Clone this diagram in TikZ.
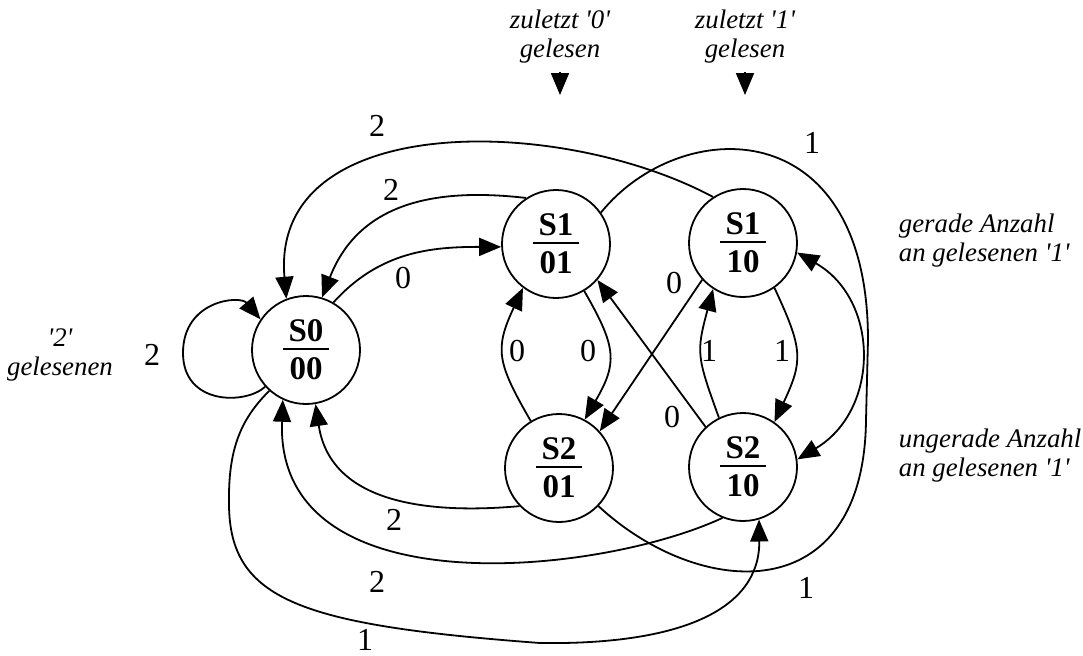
\documentclass[tikz,border=0pt]{standalone}
\usepackage{fontspec}
\setmainfont{Liberation Serif}
\usetikzlibrary{arrows.meta}
\tikzset{>={Triangle[length=11pt,width=9pt]}}
\newcommand{\zst}[2]{\vbox{\offinterlineskip\halign{\hfil##\hfil\cr\textbf{#1}\cr\noalign{\kern3pt}\rule{23pt}{0.7pt}\cr\noalign{\kern4pt}\textbf{#2}\cr}}}

\begin{document}
\begin{tikzpicture}[x=0.5pt,y=0.5pt,line width=0.9pt,
        state/.style={circle,draw,minimum size=54pt,inner sep=0pt,font=\fontsize{16.5}{18}\selectfont},
        lbl/.style={font=\fontsize{16}{18}\selectfont,inner sep=0pt},
        note/.style={font=\fontsize{13.4}{14.5}\selectfont\itshape,inner sep=0pt}]
        \useasboundingbox (0,0) rectangle (1083,-655);
        \node[state] (s0) at (306,-350) {\zst{S0}{00}};
        \node[state] (s1a) at (556,-244) {\zst{S1}{01}};
        \node[state] (s1b) at (743,-243) {\zst{S1}{10}};
        \node[state] (s2a) at (559,-468) {\zst{S2}{01}};
        \node[state] (s2b) at (743,-467) {\zst{S2}{10}};
        \node[note,align=center] (t0) at (560,-37) {zuletzt \textquotesingle 0\textquotesingle\\gelesen};
        \node[note,align=center] (t1) at (745,-37) {zuletzt \textquotesingle 1\textquotesingle\\gelesen};
        \node[note,align=left,anchor=west] (gr) at (898,-241) {gerade Anzahl\\an gelesenen \textquotesingle 1\textquotesingle};
        \node[note,align=left,anchor=west] (ug) at (898,-456) {ungerade Anzahl\\an gelesenen \textquotesingle 1\textquotesingle};
        \node[note,align=center] (zw) at (60,-355) {\textquotesingle 2\textquotesingle\\gelesenen};
        \coordinate (p0) at (560,-72);
        \coordinate (q0) at (560,-95);
        \coordinate (p1) at (745,-72);
        \coordinate (q1) at (745,-95);
        \draw[->] (p0)--(q0);
        \draw[->] (p1)--(q1);
        % Schleife an S0
        \draw[->] (s0.222) .. controls (245,-405) and (183,-405) .. (183,-353) .. controls (183,-300) and (240,-295) .. (s0.146) node[lbl] at (152,-355) {2};
        % Uebergaenge
        \draw[->] (s0.60) to[out=48,in=180] (s1a.183) node[lbl] at (403,-278) {0};
        \draw[->] (s1a.123) .. controls (440,-188) and (360,-200) .. (s0.73) node[lbl] at (391,-190) {2};
        \draw[->] (s1b.123) .. controls (560,-115) and (270,-110) .. (s0.111) node[lbl] at (377,-126) {2};
        \draw (s1a.35) .. controls (680,-115) and (868,-110) .. (868,-340) -- (866,-420) .. controls (864,-610) and (700,-600) .. (s2a.-44)
            node[lbl] at (812,-143) {1} node[lbl] at (806,-588) {1};
        \draw[->] (s2a.224) .. controls (420,-515) and (330,-500) .. (s0.-80) node[lbl] at (394,-520) {2};
        \draw[->] (s2b.-112) .. controls (600,-575) and (275,-610) .. (s0.-115) node[lbl] at (377,-582) {2};
        \draw[->] (s0.228) .. controls (240,-420) and (228,-450) .. (229,-505) .. controls (230,-600) and (300,-625) .. (540,-643)
            .. controls (680,-645) and (760,-610) .. (s2b.-73) node[lbl] at (365,-640) {1};
        \draw[->] (s2a.121) to[out=120,in=-115,looseness=1.3] (s1a.-127) node[lbl] at (517,-351) {0};
        \draw[->] (s1a.-59) to[out=-60,in=60,looseness=1.3] (s2a.62) node[lbl] at (588,-351) {0};
        \draw[->] (s1b.222) -- (s2a.42) node[lbl] at (674,-283) {0};
        \draw[->] (s2b.133) -- (s1a.-41) node[lbl] at (672,-417) {0};
        \draw[->] (s2b.116) to[out=110,in=-105,looseness=1.3] (s1b.-123) node[lbl] at (709,-351) {1};
        \draw[->] (s1b.-55) to[out=-65,in=65,looseness=1.3] (s2b.55) node[lbl] at (782,-351) {1};
        \draw[<->] (s1b.-10) .. controls (880,-300) and (880,-410) .. (s2b.8);
    \end{tikzpicture}
\end{document}
